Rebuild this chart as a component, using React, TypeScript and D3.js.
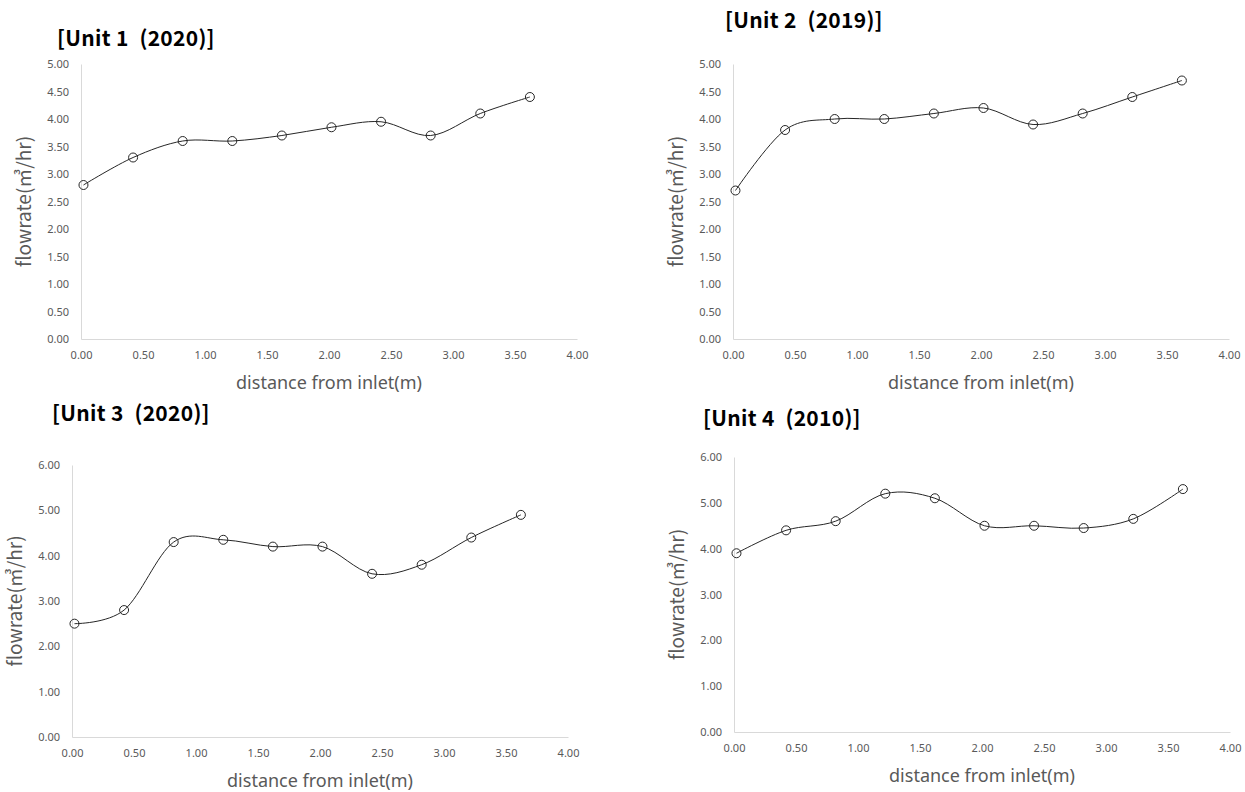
import React, { useEffect, useRef } from 'react';
import * as d3 from 'd3';

// distance from inlet (m), same for all four units
const distance = [0.02, 0.42, 0.82, 1.22, 1.62, 2.02, 2.42, 2.82, 3.22, 3.62];

// flowrate (m3/hr) per unit
const unit1Flow = [2.8, 3.3, 3.6, 3.6, 3.7, 3.85, 3.95, 3.7, 4.1, 4.4];
const unit2Flow = [2.7, 3.8, 4.0, 4.0, 4.1, 4.2, 3.9, 4.1, 4.4, 4.7];
const unit3Flow = [2.5, 2.8, 4.3, 4.35, 4.2, 4.2, 3.6, 3.8, 4.4, 4.9];
const unit4Flow = [3.9, 4.4, 4.6, 5.2, 5.1, 4.5, 4.5, 4.45, 4.65, 5.3];

const titles = ['[Unit 1\u2002(2020)]', '[Unit 2\u2002(2019)]', '[Unit 3\u2002(2020)]', '[Unit 4\u2002(2010)]'];

const xTicks = [0, 0.5, 1, 1.5, 2, 2.5, 3, 3.5, 4];
const yTicksHalf = [0, 0.5, 1, 1.5, 2, 2.5, 3, 3.5, 4, 4.5, 5];
const yTicksOne = [0, 1, 2, 3, 4, 5, 6];

const xLabel = 'distance from inlet(m)';
const yLabel = 'flowrate(㎥/hr)';

// where each panel sits on the page
const panels = [
  { values: unit1Flow, ticks: yTicksHalf, yMax: 5, x0: 81, x1: 577, y0: 339, y1: 64, tx: 57, ty: 46 },
  { values: unit2Flow, ticks: yTicksHalf, yMax: 5, x0: 733, x1: 1229, y0: 339, y1: 64, tx: 725, ty: 28 },
  { values: unit3Flow, ticks: yTicksOne, yMax: 6, x0: 72, x1: 568, y0: 737, y1: 465, tx: 52, ty: 421 },
  { values: unit4Flow, ticks: yTicksOne, yMax: 6, x0: 734, x1: 1230, y0: 732, y1: 457, tx: 703, ty: 426 },
];

const gray = '#595959';
const axisGray = '#d9d9d9';
const ink = '#262626';

function App() {
  const svgRef = useRef(null);

  useEffect(() => {
    const svg = d3.select(svgRef.current);
    svg.selectAll('*').remove();

    panels.forEach((p, i) => {
      const xScale = d3.scaleLinear().domain([0, 4]).range([p.x0, p.x1]);
      const yScale = d3.scaleLinear().domain([0, p.yMax]).range([p.y0, p.y1]);
      const g = svg.append('g');

      // title
      g.append('text')
        .attr('x', p.tx)
        .attr('y', p.ty)
        .attr('font-family', '"Noto Sans CJK KR", "Noto Sans", sans-serif')
        .attr('font-weight', 700)
        .attr('font-size', 21)
        .attr('letter-spacing', 0.3)
        .attr('fill', '#000')
        .text(titles[i]);

      const xAxis = d3.axisBottom(xScale)
        .tickValues(xTicks)
        .tickSize(0)
        .tickPadding(12)
        .tickFormat(d3.format('.2f'));
      g.append('g')
        .attr('transform', `translate(0,${p.y0})`)
        .call(xAxis)
        .call(a => a.select('.domain').attr('stroke', axisGray))
        .call(a => a.selectAll('text')
          .attr('fill', gray)
          .attr('font-size', 11)
          .attr('font-family', '"Noto Sans", sans-serif'));

      const yAxis = d3.axisLeft(yScale)
        .tickValues(p.ticks)
        .tickSize(0)
        .tickPadding(12)
        .tickFormat(d3.format('.2f'));
      g.append('g')
        .attr('transform', `translate(${p.x0},0)`)
        .call(yAxis)
        .call(a => a.select('.domain').attr('stroke', axisGray))
        .call(a => a.selectAll('text')
          .attr('fill', gray)
          .attr('font-size', 11)
          .attr('font-family', '"Noto Sans", sans-serif'));

      // axis titles
      g.append('text')
        .attr('x', (p.x0 + p.x1) / 2)
        .attr('y', p.y0 + 50)
        .attr('text-anchor', 'middle')
        .attr('font-family', '"Noto Sans", sans-serif')
        .attr('font-size', 18)
        .attr('fill', gray)
        .text(xLabel);

      g.append('text')
        .attr('transform', `translate(${p.x0 - 50},${(p.y0 + p.y1) / 2}) rotate(-90)`)
        .attr('text-anchor', 'middle')
        .attr('font-family', '"Noto Sans CJK KR", "Noto Sans", sans-serif')
        .attr('font-size', 19)
        .attr('fill', gray)
        .text(yLabel);

      const pts = distance.map((d, k) => [d, p.values[k]]);

      // smoothed line like the spreadsheet's
      const flowLine = d3.line()
        .x(d => xScale(d[0]))
        .y(d => yScale(d[1]))
        .curve(d3.curveCardinal.tension(0));

      g.append('path')
        .datum(pts)
        .attr('d', flowLine)
        .attr('fill', 'none')
        .attr('stroke', ink)
        .attr('stroke-width', 1);

      g.selectAll('.pt')
        .data(pts)
        .join('circle')
        .attr('class', 'pt')
        .attr('cx', d => xScale(d[0]))
        .attr('cy', d => yScale(d[1]))
        .attr('r', 4.5)
        .attr('fill', 'none')
        .attr('stroke', ink)
        .attr('stroke-width', 1);
    });
  }, []);

  return (
    <svg
      ref={svgRef}
      width={1245}
      height={792}
      style={{ position: 'absolute', left: 0, top: 0, background: '#fff' }}
    />
  );
}

export default App;
